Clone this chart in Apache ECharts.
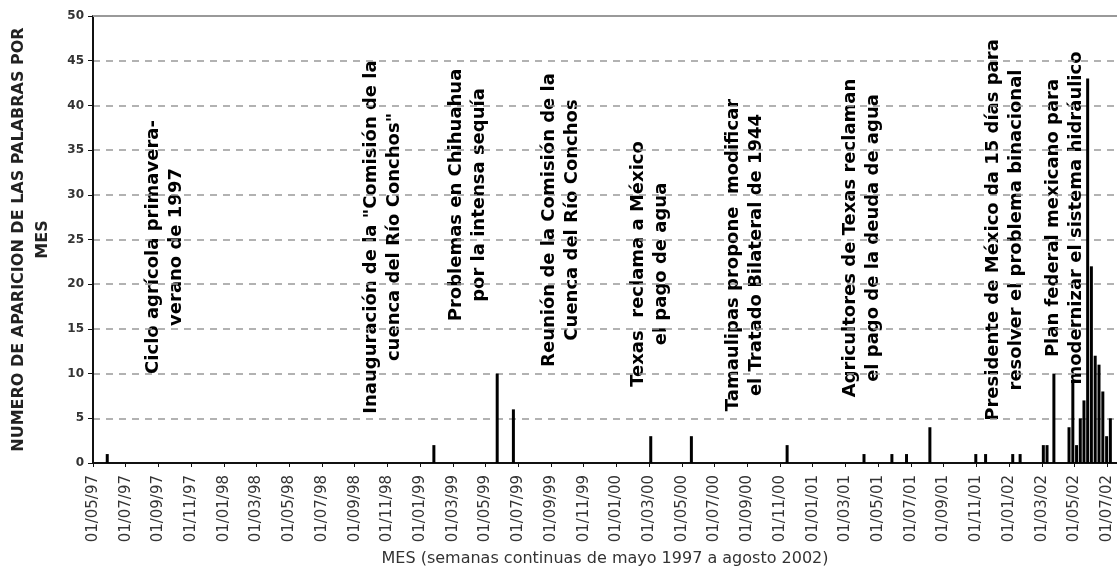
<!DOCTYPE html>
<html><head><meta charset="utf-8">
<script src="https://cdn.jsdelivr.net/npm/echarts@6/dist/echarts.min.js"></script>
<style>html,body{margin:0;padding:0;background:#fff}#c{width:1117px;height:573px}</style>
</head><body><div id="c"></div>
<script>
// X tick labels (every two months, starting 01/05/97)
const tickLabels = ['01/05/97','01/07/97','01/09/97','01/11/97','01/01/98','01/03/98','01/05/98','01/07/98','01/09/98','01/11/98',
  '01/01/99','01/03/99','01/05/99','01/07/99','01/09/99','01/11/99','01/01/00','01/03/00','01/05/00','01/07/00','01/09/00','01/11/00',
  '01/01/01','01/03/01','01/05/01','01/07/01','01/09/01','01/11/01','01/01/02','01/03/02','01/05/02','01/07/02'];

// Weeks with appearances (week date) and counts
const barDates = ['1997-05-28','1999-01-27','1999-05-23','1999-06-22','2000-03-04','2000-05-19','2000-11-14',
  '2001-04-05','2001-05-27','2001-06-23','2001-08-06','2001-10-31','2001-11-18','2002-01-08','2002-01-22',
  '2002-03-04','2002-03-11','2002-03-24','2002-04-21','2002-04-28','2002-05-05','2002-05-12','2002-05-19',
  '2002-05-26','2002-06-02','2002-06-09','2002-06-16','2002-06-23','2002-06-30','2002-07-07'];
const barValues = [1,2,10,6,3,3,2,1,1,1,4,1,1,1,1,2,2,10,4,9,2,5,7,43,22,12,11,8,3,5];

// Event annotations (two lines each)
const annotations = [
  ['Ciclo agrícola primavera-','verano de 1997'],
  ['Inauguración de la "Comisión de la','cuenca del Río Conchos"'],
  ['Problemas en Chihuahua','por la intensa sequía'],
  ['Reunión de la Comisión de la','Cuenca del Río Conchos'],
  ['Texas  reclama a México','el pago de agua'],
  ['Tamaulipas propone  modificar','el Tratado Bilateral de 1944'],
  ['Agricultores de Texas reclaman','el pago de la deuda de agua'],
  ['Presidente de México da 15 días para','resolver el problema binacional'],
  ['Plan federal mexicano para','modernizar el sistema hidráulico']
];
// layout: pixel centres of each annotation block
const annotationLayout = [[165,247],[383,237],[468,195],[561,220],[650,264],[745,255],[862,238],[1005,230],[1065,218]];

function toMonths(s){
  const p = s.split('-').map(Number);
  const dim = new Date(p[0], p[1], 0).getDate();
  return (p[0]-1997)*12 + (p[1]-5) + (p[2]-1)/dim;
}

const chart = echarts.init(document.getElementById('c'));
chart.setOption({
  animation:false,
  backgroundColor:'#fff',
  grid:{left:93, top:16, right:0, bottom:110, containLabel:false, outerBoundsMode:'none'},
  xAxis:{
    type:'value', min:0, max:62.6, interval:2,
    name:'MES (semanas continuas de mayo 1997 a agosto 2002)',
    nameLocation:'middle', nameGap:88,
    nameTextStyle:{fontFamily:'DejaVu Sans', fontSize:16, color:'#333'},
    axisLine:{show:true, onZero:false, lineStyle:{color:'#111', width:2}},
    axisTick:{show:true, length:4, lineStyle:{color:'#111', width:1}},
    splitLine:{show:false},
    axisLabel:{
      rotate:90, margin:12, fontFamily:'DejaVu Sans', fontSize:15, color:'#333', showMaxLabel:false,
      formatter:function(v){ const i=Math.round(v/2); return (Math.abs(v-i*2)<1e-6 && tickLabels[i]) ? tickLabels[i] : ''; }
    }
  },
  yAxis:{
    type:'value', min:0, max:50, interval:5,
    name:'NUMERO DE APARICION DE LAS PALABRAS POR\nMES',
    nameLocation:'middle', nameRotate:90, nameGap:38,
    nameTextStyle:{fontFamily:'DejaVu Sans', fontWeight:'bold', fontSize:16, lineHeight:24, color:'#222'},
    axisLine:{show:true, lineStyle:{color:'#111', width:2}},
    axisTick:{show:true, length:5, lineStyle:{color:'#111', width:1}},
    axisLabel:{fontFamily:'DejaVu Sans', fontWeight:'bold', fontSize:12, color:'#333', margin:9},
    splitLine:{show:true, lineStyle:{color:'#999', width:1.5, type:[7,6]}}
  },
  series:[{
    type:'bar', barWidth:3,
    data: barDates.map((d,i)=>[toMonths(d), barValues[i]]),
    itemStyle:{color:'#000'},
    markLine:{silent:true, symbol:['none','none'], label:{show:false},
      lineStyle:{color:'#999', type:'solid', width:2}, data:[{yAxis:50}]}
  }],
  graphic: annotations.map((lines,i)=>({
    type:'text', x:annotationLayout[i][0], y:annotationLayout[i][1], rotation:Math.PI/2, silent:true,
    style:{text:lines.join('\n'), font:'bold 18px "DejaVu Sans"', fill:'#000',
      align:'center', verticalAlign:'middle', textAlign:'center', textVerticalAlign:'middle', lineHeight:23}
  }))
});
</script></body></html>
